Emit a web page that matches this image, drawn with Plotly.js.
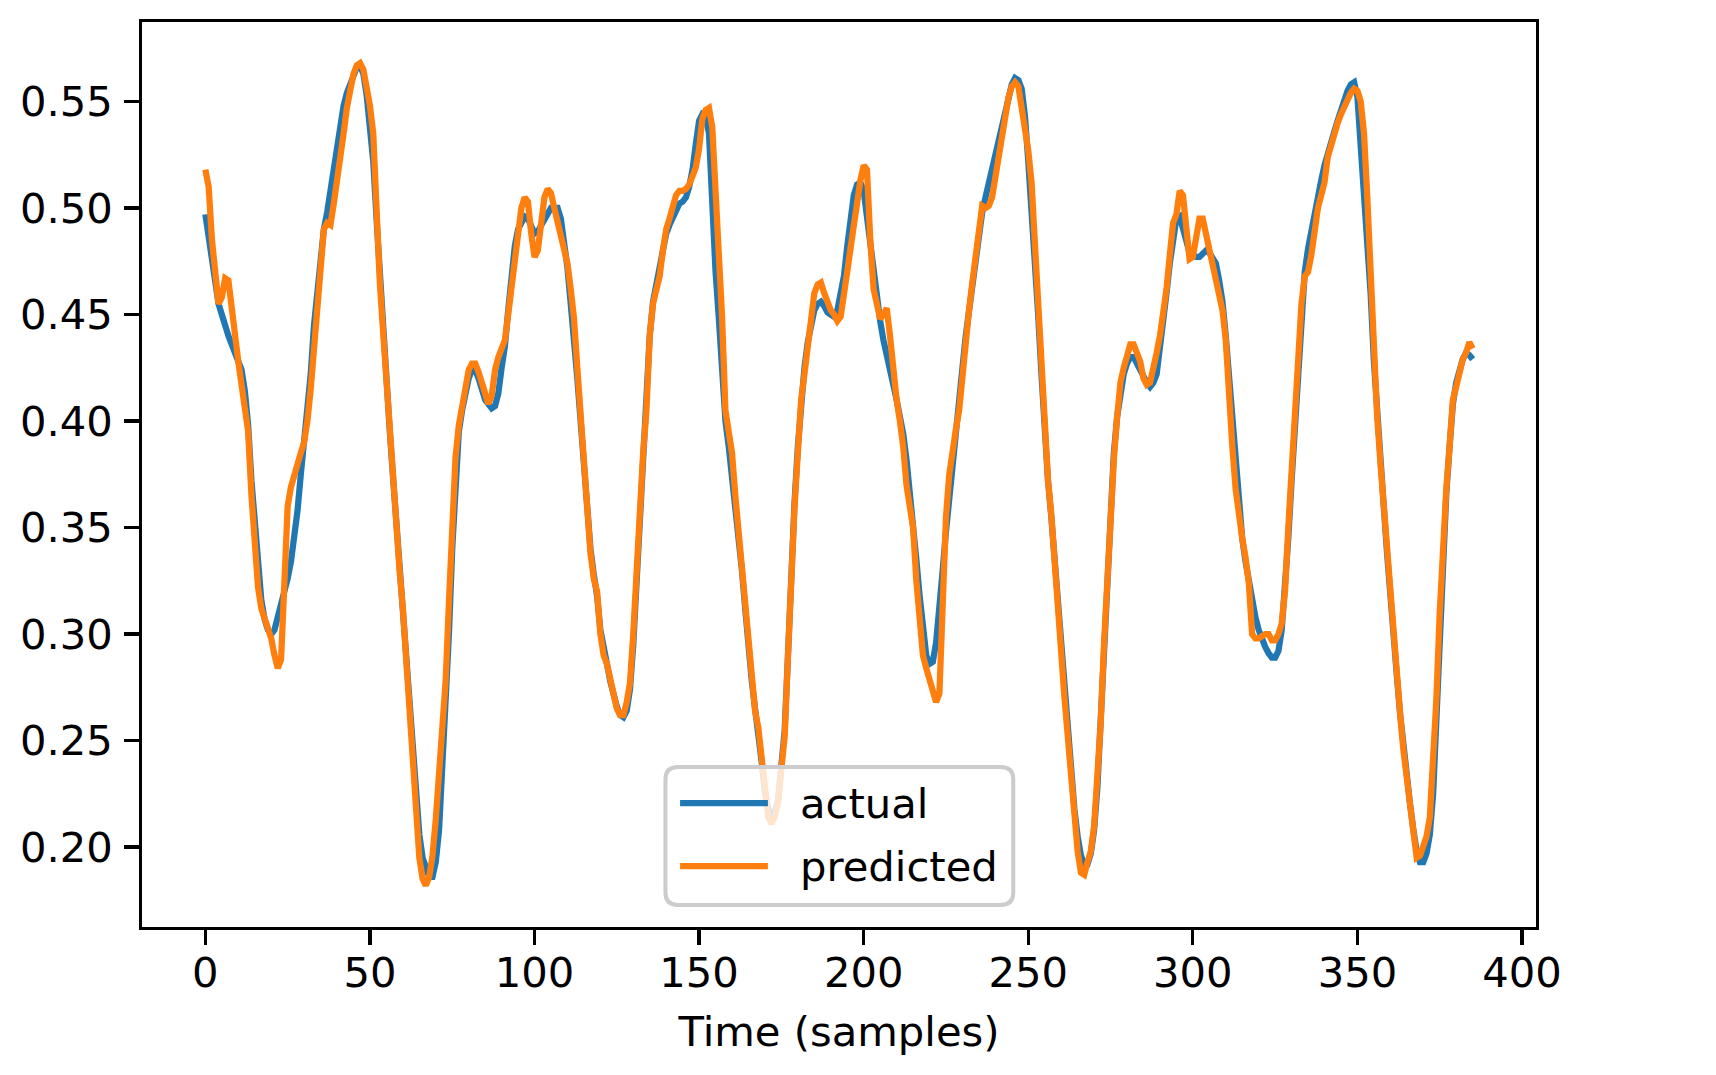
<!DOCTYPE html>
<html>
<head>
<meta charset="utf-8">
<script src="https://cdn.plot.ly/plotly-3.0.1.min.js"></script>
<style>
  html, body { margin: 0; padding: 0; background: #fff; }
  #myDiv { width: 1716px; height: 1075px; }
</style>
</head>
<body>
<div id="myDiv"></div>
<script>
// values, one per sample (x = sample index 0..385)
var actual = [
  0.497, 0.487, 0.475, 0.463, 0.455, 0.450, 0.444, 0.440, 0.436, 0.432,
  0.428, 0.424, 0.414, 0.398, 0.372, 0.350, 0.330, 0.316, 0.307, 0.302,
  0.300, 0.302, 0.308, 0.314, 0.319, 0.326, 0.334, 0.345, 0.358, 0.375,
  0.390, 0.402, 0.422, 0.445, 0.462, 0.478, 0.490, 0.498, 0.508, 0.518,
  0.530, 0.540, 0.548, 0.554, 0.558, 0.563, 0.566, 0.567, 0.563, 0.553,
  0.540, 0.522, 0.495, 0.468, 0.443, 0.420, 0.396, 0.374, 0.352, 0.333,
  0.315, 0.295, 0.268, 0.246, 0.226, 0.206, 0.195, 0.190, 0.186, 0.186,
  0.193, 0.208, 0.235, 0.270, 0.300, 0.340, 0.375, 0.395, 0.405, 0.414,
  0.420, 0.424, 0.424, 0.420, 0.415, 0.410, 0.408, 0.406, 0.407, 0.413,
  0.425, 0.435, 0.452, 0.470, 0.482, 0.490, 0.494, 0.496, 0.495, 0.491,
  0.488, 0.489, 0.492, 0.495, 0.498, 0.500, 0.500, 0.500, 0.495, 0.485,
  0.472, 0.455, 0.440, 0.420, 0.400, 0.378, 0.358, 0.340, 0.328, 0.318,
  0.302, 0.292, 0.286, 0.278, 0.271, 0.266, 0.262, 0.261, 0.264, 0.274,
  0.295, 0.325, 0.352, 0.385, 0.410, 0.440, 0.456, 0.465, 0.473, 0.482,
  0.488, 0.492, 0.496, 0.499, 0.502, 0.503, 0.505, 0.510, 0.518, 0.530,
  0.541, 0.544, 0.543, 0.535, 0.495, 0.470, 0.448, 0.425, 0.400, 0.388,
  0.375, 0.360, 0.345, 0.330, 0.312, 0.293, 0.278, 0.265, 0.254, 0.240,
  0.226, 0.218, 0.215, 0.216, 0.222, 0.236, 0.255, 0.290, 0.330, 0.362,
  0.388, 0.410, 0.425, 0.437, 0.446, 0.452, 0.455, 0.456, 0.454, 0.451,
  0.450, 0.449, 0.452, 0.460, 0.468, 0.482, 0.496, 0.506, 0.511, 0.512,
  0.508, 0.496, 0.480, 0.468, 0.458, 0.447, 0.438, 0.430, 0.424, 0.417,
  0.410, 0.403, 0.394, 0.382, 0.368, 0.352, 0.335, 0.318, 0.300, 0.290,
  0.286, 0.287, 0.296, 0.310, 0.330, 0.348, 0.365, 0.382, 0.398, 0.412,
  0.425, 0.440, 0.452, 0.462, 0.472, 0.487, 0.498, 0.505, 0.512, 0.518,
  0.526, 0.533, 0.540, 0.547, 0.553, 0.558, 0.561, 0.560, 0.556, 0.543,
  0.522, 0.500, 0.475, 0.450, 0.422, 0.395, 0.372, 0.355, 0.335, 0.315,
  0.294, 0.272, 0.254, 0.235, 0.218, 0.205, 0.196, 0.192, 0.192, 0.197,
  0.208, 0.228, 0.260, 0.300, 0.335, 0.362, 0.385, 0.402, 0.415, 0.422,
  0.427, 0.430, 0.430, 0.427, 0.423, 0.420, 0.418, 0.416, 0.418, 0.422,
  0.433, 0.445, 0.460, 0.474, 0.486, 0.495, 0.496, 0.490, 0.484, 0.479,
  0.478, 0.477, 0.477, 0.479, 0.480, 0.479, 0.477, 0.474, 0.466, 0.456,
  0.440, 0.420, 0.398, 0.378, 0.360, 0.345, 0.334, 0.324, 0.316, 0.308,
  0.302, 0.297, 0.294, 0.291, 0.289, 0.289, 0.292, 0.302, 0.320, 0.345,
  0.372, 0.398, 0.425, 0.452, 0.470, 0.481, 0.490, 0.498, 0.505, 0.513,
  0.520, 0.526, 0.531, 0.536, 0.541, 0.546, 0.551, 0.555, 0.558, 0.559,
  0.552, 0.530, 0.510, 0.485, 0.460, 0.428, 0.402, 0.380, 0.360, 0.338,
  0.316, 0.298, 0.280, 0.262, 0.246, 0.232, 0.220, 0.208, 0.198, 0.193,
  0.193, 0.197, 0.206, 0.225, 0.258, 0.300, 0.338, 0.366, 0.388, 0.408,
  0.418, 0.424, 0.429, 0.432, 0.431, 0.429
];

var predicted = [
  0.518, 0.510, 0.485, 0.468, 0.455, 0.458, 0.467, 0.466, 0.452, 0.438,
  0.428, 0.417, 0.408, 0.395, 0.365, 0.340, 0.322, 0.312, 0.307, 0.303,
  0.298, 0.290, 0.284, 0.288, 0.320, 0.360, 0.369, 0.375, 0.380, 0.385,
  0.390, 0.400, 0.415, 0.435, 0.457, 0.477, 0.490, 0.493, 0.492, 0.502,
  0.512, 0.522, 0.535, 0.547, 0.556, 0.563, 0.567, 0.568, 0.565, 0.558,
  0.548, 0.535, 0.495, 0.465, 0.442, 0.418, 0.392, 0.370, 0.348, 0.330,
  0.312, 0.290, 0.258, 0.238, 0.218, 0.195, 0.185, 0.182, 0.186, 0.196,
  0.213, 0.233, 0.258, 0.278, 0.315, 0.350, 0.383, 0.398, 0.408, 0.418,
  0.424, 0.427, 0.427, 0.423, 0.418, 0.413, 0.408, 0.412, 0.424, 0.430,
  0.434, 0.438, 0.450, 0.462, 0.478, 0.490, 0.500, 0.505, 0.503, 0.488,
  0.477, 0.480, 0.495, 0.505, 0.509, 0.507, 0.500, 0.494, 0.488, 0.481,
  0.474, 0.462, 0.448, 0.425, 0.402, 0.380, 0.360, 0.338, 0.326, 0.320,
  0.300, 0.290, 0.286, 0.278, 0.270, 0.265, 0.262, 0.262, 0.268, 0.277,
  0.300, 0.330, 0.355, 0.385, 0.405, 0.440, 0.455, 0.462, 0.468, 0.480,
  0.490, 0.495, 0.501, 0.506, 0.508, 0.508, 0.509, 0.511, 0.515, 0.519,
  0.528, 0.542, 0.546, 0.547, 0.538, 0.510, 0.480, 0.448, 0.405, 0.395,
  0.385, 0.365, 0.348, 0.332, 0.312, 0.292, 0.278, 0.264, 0.256, 0.244,
  0.228, 0.214, 0.211, 0.214, 0.221, 0.237, 0.252, 0.290, 0.330, 0.360,
  0.385, 0.410, 0.422, 0.435, 0.449, 0.460, 0.464, 0.465, 0.460, 0.455,
  0.452, 0.450, 0.447, 0.449, 0.458, 0.470, 0.481, 0.493, 0.503, 0.513,
  0.520, 0.518, 0.485, 0.462, 0.455, 0.448, 0.450, 0.453, 0.440, 0.424,
  0.410, 0.400, 0.388, 0.370, 0.360, 0.350, 0.325, 0.305, 0.290, 0.284,
  0.278, 0.272, 0.268, 0.272, 0.323, 0.355, 0.375, 0.388, 0.396, 0.405,
  0.423, 0.438, 0.452, 0.465, 0.478, 0.490, 0.501, 0.500, 0.501, 0.505,
  0.515, 0.525, 0.536, 0.545, 0.552, 0.557, 0.559, 0.557, 0.548, 0.538,
  0.527, 0.512, 0.482, 0.455, 0.425, 0.395, 0.372, 0.356, 0.332, 0.313,
  0.292, 0.270, 0.252, 0.232, 0.214, 0.198, 0.188, 0.187, 0.193, 0.198,
  0.210, 0.230, 0.258, 0.295, 0.328, 0.355, 0.382, 0.402, 0.418, 0.425,
  0.430, 0.436, 0.436, 0.432, 0.428, 0.420, 0.417, 0.418, 0.424, 0.432,
  0.440, 0.450, 0.462, 0.478, 0.493, 0.497, 0.508, 0.506, 0.492, 0.476,
  0.477, 0.488, 0.495, 0.495, 0.488, 0.481, 0.474, 0.468, 0.461, 0.452,
  0.438, 0.410, 0.388, 0.368, 0.354, 0.345, 0.336, 0.324, 0.300, 0.298,
  0.298, 0.299, 0.300, 0.300, 0.297, 0.297, 0.300, 0.305, 0.320, 0.350,
  0.378, 0.400, 0.425, 0.455, 0.468, 0.470, 0.478, 0.490, 0.500, 0.506,
  0.512, 0.524, 0.530, 0.534, 0.540, 0.544, 0.548, 0.552, 0.554, 0.556,
  0.555, 0.550, 0.535, 0.505, 0.470, 0.428, 0.402, 0.380, 0.360, 0.339,
  0.315, 0.298, 0.280, 0.262, 0.245, 0.232, 0.222, 0.207, 0.195, 0.196,
  0.201, 0.205, 0.214, 0.238, 0.270, 0.310, 0.342, 0.368, 0.388, 0.410,
  0.416, 0.422, 0.429, 0.432, 0.437, 0.434
];

var seriesNames = ['actual', 'predicted'];
var xTicks = [0, 50, 100, 150, 200, 250, 300, 350, 400];
var yTicks = [0.20, 0.25, 0.30, 0.35, 0.40, 0.45, 0.50, 0.55];

var blue = '#1f77b4';
var orange = '#ff7f0e';
var fs = 41.7;      // 10pt at 300 dpi
var lw = 6.25;      // 1.5pt

var trace1 = {
  y: actual,
  type: 'scatter',
  mode: 'lines',
  name: seriesNames[0],
  line: {color: blue, width: lw}
};

var trace2 = {
  y: predicted,
  type: 'scatter',
  mode: 'lines',
  name: seriesNames[1],
  line: {color: orange, width: lw}
};

// legend drawn by hand so it looks like the matplotlib one (long handles, rounded frame)
function roundRect(x0, y0, x1, y1, rx, ry) {
  return 'M' + (x0 + rx) + ',' + y0 +
    ' L' + (x1 - rx) + ',' + y0 + ' Q' + x1 + ',' + y0 + ' ' + x1 + ',' + (y0 + ry) +
    ' L' + x1 + ',' + (y1 - ry) + ' Q' + x1 + ',' + y1 + ' ' + (x1 - rx) + ',' + y1 +
    ' L' + (x0 + rx) + ',' + y1 + ' Q' + x0 + ',' + y1 + ' ' + x0 + ',' + (y1 - ry) +
    ' L' + x0 + ',' + (y0 + ry) + ' Q' + x0 + ',' + y0 + ' ' + (x0 + rx) + ',' + y0 + ' Z';
}

var legRows = [0.137, 0.0674];
var legColors = [blue, orange];

var shapes = [{
  type: 'path', xref: 'paper', yref: 'paper', layer: 'above',
  path: roundRect(0.3755, 0.0243, 0.6250, 0.1768, 0.009, 0.0135),
  fillcolor: 'rgba(255,255,255,0.8)',
  line: {color: '#cccccc', width: 4}
}];
var annotations = [];
legRows.forEach(function (yy, i) {
  shapes.push({
    type: 'line', xref: 'paper', yref: 'paper', layer: 'above',
    x0: 0.3860, x1: 0.4490, y0: yy, y1: yy,
    line: {color: legColors[i], width: lw}
  });
  annotations.push({
    xref: 'paper', yref: 'paper', x: 0.4705, y: yy,
    xanchor: 'left', yanchor: 'middle', showarrow: false,
    text: seriesNames[i],
    font: {family: 'DejaVu Sans', size: fs, color: 'black'}
  });
});

var axisCommon = {
  ticks: 'outside',
  ticklen: 14.6,
  tickwidth: 3.3,
  tickcolor: 'black',
  showline: true,
  linewidth: 3.3,
  linecolor: 'black',
  mirror: true,
  showgrid: false,
  zeroline: false,
  automargin: false,
  tickfont: {family: 'DejaVu Sans', size: fs, color: 'black'}
};

var layout = {
  width: 1716,
  height: 1075,
  margin: {l: 142, r: 180, t: 22, b: 148, pad: 0},
  paper_bgcolor: 'white',
  plot_bgcolor: 'white',
  showlegend: false,
  font: {family: 'DejaVu Sans', size: fs, color: 'black'},
  xaxis: Object.assign({}, axisCommon, {
    range: [-19.25, 404.25],
    tickvals: xTicks,
    ticktext: xTicks.map(String),
    ticklabelstandoff: -8,
    title: {text: 'Time (samples)', font: {family: 'DejaVu Sans', size: fs, color: 'black'}, standoff: 22}
  }),
  yaxis: Object.assign({}, axisCommon, {
    range: [0.1625, 0.5873],
    tickvals: yTicks,
    tickformat: '.2f',
    ticklabelstandoff: 3
  }),
  shapes: shapes,
  annotations: annotations
};

Plotly.newPlot('myDiv', [trace1, trace2], layout, {staticPlot: true, displayModeBar: false});
</script>
</body>
</html>
